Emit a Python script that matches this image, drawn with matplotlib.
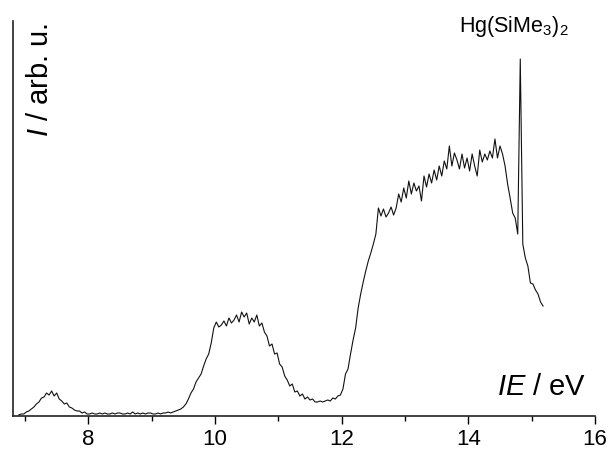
import numpy as np
import matplotlib
matplotlib.use("Agg")
import matplotlib.pyplot as plt
from matplotlib.ticker import MultipleLocator

plt.rcParams["font.family"] = ["Liberation Sans", "DejaVu Sans"]
plt.rcParams["mathtext.fontset"] = "custom"
plt.rcParams["mathtext.rm"] = "Liberation Sans"
plt.rcParams["mathtext.it"] = "Liberation Sans:italic"

# photoelectron spectrum, sampled every 0.04 eV starting at 6.90 eV
ie_start = 6.90
ie_step = 0.04
intensity = [
    # first band (6.90 - 8.02)
    1, 2, 2, 4, 5, 7, 9, 12, 14, 18, 19, 23, 21, 25, 20, 23, 17, 15, 12, 13,
    9, 8, 6, 5, 5, 3, 4, 2, 2,
    # baseline (8.06 - 9.30)
    3, 2, 2, 3, 2, 3, 2, 2, 3, 2, 3, 3, 2, 2, 3, 2, 4, 2, 3, 2, 3, 2, 3, 3,
    2, 2, 3, 2, 3, 3, 4, 3,
    # second band (9.34 - 11.98)
    4, 5, 6, 7, 9, 12, 17, 23, 27, 34, 38, 42, 50, 57, 62, 73, 88,
    94, 89, 91, 95, 90, 98, 93, 96, 101, 94, 104, 99, 103, 92, 98, 94, 101,
    90, 93, 84, 80, 70, 72, 62, 63, 52, 49, 40, 36, 30, 32, 24, 25, 20, 22,
    17, 19, 16, 17, 14, 14, 15, 14, 15, 16, 15, 18, 17, 20, 21,
    # third band (12.02 - 14.78)
    27, 42, 47, 62, 76, 88, 108, 122, 134, 145, 155, 163, 172, 182, 208,
    200, 207, 199, 203, 209, 201, 208, 222, 214, 228, 218, 235, 222, 233,
    225, 230, 215, 240, 229, 242, 233, 246, 236, 250, 240, 255, 247, 270,
    250, 263, 256, 247, 262, 248, 258, 245, 262, 250, 240, 266, 254, 262,
    256, 265, 258, 277, 258, 270, 262, 250, 232, 218, 203, 198, 182,
    # sharp Hg line and tail (14.82 - 15.18)
    357, 172, 158, 150, 133, 132, 126, 122, 114, 110,
]
ie = ie_start + ie_step * np.arange(len(intensity))

x_major = [8, 10, 12, 14, 16]

fig = plt.figure(figsize=(6.11, 4.52), dpi=100)
ax = fig.add_axes([13 / 611, 35 / 452, 582 / 611, 395 / 452])

ax.plot(ie, intensity, color="#111111", linewidth=0.8)

ax.set_xlim(6.81, 16)
ax.set_ylim(0, 395)
ax.set_xticks(x_major)
ax.xaxis.set_minor_locator(MultipleLocator(1))
ax.tick_params(axis="x", which="major", direction="out", length=6, width=1.0,
               labelsize=16, pad=3)
ax.tick_params(axis="x", which="minor", direction="out", length=3.5, width=1.0)
ax.set_yticks([])

for side in ("top", "right"):
    ax.spines[side].set_visible(False)
for side in ("left", "bottom"):
    ax.spines[side].set_linewidth(1.2)
    ax.spines[side].set_color("#222222")

ax.text(0.046, 0.997, r"$\mathit{I}$ / arb. u.", transform=ax.transAxes,
        rotation=90, ha="center", va="top", fontsize=21)
ax.text(0.985, 0.056, r"$\mathit{IE}$ / eV", transform=ax.transAxes,
        ha="right", va="baseline", fontsize=21)
ax.text(0.861, 0.975, r"Hg(SiMe$_3$)$_2$", transform=ax.transAxes,
        ha="center", va="baseline", fontsize=15.5)

fig.savefig("out.png", dpi=100)
